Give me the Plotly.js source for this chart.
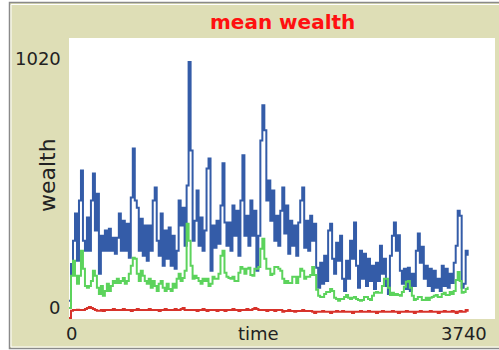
<!DOCTYPE html>
<html>
<head>
<meta charset="utf-8">
<script src="https://cdn.plot.ly/plotly-3.0.1.min.js"></script>
<style>html,body{margin:0;padding:0;background:#fff;}#chart{width:499px;height:350px;}</style>
</head>
<body>
<div id="chart"></div>
<script>
// ---- data ----
const chartTitle = 'mean wealth';
const xTitle = 'time';
const yTitle = 'wealth';
const xRange = [0, 3740];
const yRange = [0, 1020];
const xTickLabels = ['0', '3740'];
const yTickLabels = ['0', '1020'];
const tickStep = 17.5; // ticks between plotted points

const seriesNames = ['richest', 'middle', 'mean'];

const blueWealth = [
  66,200,284,383,211,430,539,284,248,368,
  248,430,528,321,455,164,302,248,321,248,
  328,248,295,237,295,383,248,357,248,346,
  222,441,619,430,404,248,364,230,339,211,
  339,248,430,477,284,230,383,193,321,219,
  332,193,302,182,248,430,339,404,266,485,
  933,612,284,357,466,266,368,248,321,546,
  583,175,339,259,357,273,412,565,350,266,
  350,248,412,302,393,230,430,594,302,375,
  266,430,302,393,175,302,648,776,685,430,
  503,357,466,284,375,266,393,477,310,412,
  237,357,266,339,230,350,430,477,259,357,
  248,375,284,346,186,113,204,128,230,138,
  321,346,219,164,277,211,302,146,102,211,
  146,284,219,350,193,113,248,146,237,120,
  219,138,193,109,204,138,266,164,219,120,
  91,230,302,350,248,304,175,128,182,109,
  186,102,164,120,248,310,204,262,146,193,
  120,182,102,175,113,146,102,193,120,182,
  113,164,131,204,266,393,375,113,128,248,
  230
];

const greenWealth = [
  40,157,211,157,128,157,248,182,120,113,
  120,138,175,157,113,91,120,84,102,128,
  102,120,138,131,146,131,138,149,128,138,
  164,193,222,219,164,138,175,157,138,128,
  146,113,138,120,102,128,138,113,102,128,
  109,102,128,113,146,164,138,149,175,346,
  284,193,146,157,149,138,128,146,138,146,
  120,128,153,146,146,164,230,248,168,153,
  149,146,153,138,138,168,189,182,164,182,
  186,160,157,182,182,189,255,291,219,182,
  182,160,164,189,189,182,175,146,131,138,
  131,131,153,153,131,153,182,175,146,153,
  153,160,189,160,106,84,80,80,91,98,
  98,109,102,77,73,66,73,73,80,87,
  77,73,77,80,73,69,66,69,80,80,
  73,69,84,95,98,95,95,120,146,146,
  113,87,95,87,91,87,84,98,117,135,
  138,113,84,69,73,80,80,69,69,77,
  69,77,80,84,87,80,80,91,95,87,
  87,98,91,102,142,171,138,95,98,109,
  117
];

const redWealth = [
  4,30,33,33,34,33,33,33,36,40,
  44,40,36,33,30,30,33,29,33,33,
  33,33,36,33,33,33,33,36,33,33,
  33,29,33,33,36,33,33,33,33,33,
  36,33,33,33,33,29,33,33,36,33,
  33,33,33,36,33,33,36,40,33,33,
  33,33,33,33,29,33,33,36,33,29,
  33,33,33,33,29,33,33,33,29,33,
  33,33,36,33,33,29,33,33,33,36,
  33,33,36,40,36,33,33,33,33,29,
  33,33,33,29,33,33,33,26,29,29,
  33,29,29,26,29,29,29,33,29,29,
  29,29,26,22,26,26,26,29,26,26,
  26,22,26,26,29,26,26,29,26,26,
  26,26,22,26,26,26,29,26,26,26,
  29,26,26,26,22,26,26,29,26,26,
  26,26,29,26,26,22,26,26,26,29,
  26,26,26,22,26,26,29,26,26,26,
  26,29,26,26,26,22,26,26,29,26,
  26,26,29,26,22,26,29,26,26,33,
  26
];

const seriesColors = ['#345ca8', '#5cd35c', '#d7322a'];

// ---- build ----
const ticksOf = arr => arr.map((_, i) => i * tickStep);
const allSeries = [blueWealth, greenWealth, redWealth];
const traces = allSeries.map((vals, k) => ({
  type: 'scatter', mode: 'lines', name: seriesNames[k],
  x: ticksOf(vals), y: vals,
  line: {color: seriesColors[k], width: 2, shape: 'hv'},
  hoverinfo: 'skip'
}));

const W = 426, H = 281, L = 69, T = 38;
const px = v => (v - L) / W;
const py = v => (T + H - v) / H;
const labelFont = {family: 'DejaVu Sans, sans-serif', size: 18, color: '#222'};

const annotations = [
  {text: '<b>' + chartTitle + '</b>', x: px(282), y: py(22), xanchor: 'center', yanchor: 'middle',
   font: {family: 'DejaVu Sans, sans-serif', size: 20, color: '#ff1010'}},
  {text: yTickLabels[1], x: px(63), y: py(58), xanchor: 'right', yanchor: 'middle', font: labelFont},
  {text: yTickLabels[0], x: px(62), y: py(307), xanchor: 'right', yanchor: 'middle', font: labelFont},
  {text: xTickLabels[0], x: px(71), y: py(333), xanchor: 'center', yanchor: 'middle', font: labelFont},
  {text: xTickLabels[1], x: px(489), y: py(333), xanchor: 'right', yanchor: 'middle', font: labelFont},
  {text: xTitle, x: px(258), y: py(333), xanchor: 'center', yanchor: 'middle', font: labelFont},
  {text: yTitle, x: px(47), y: py(175), xanchor: 'center', yanchor: 'middle', textangle: -90,
   font: {family: 'DejaVu Sans, sans-serif', size: 22, color: '#222'}}
].map(a => Object.assign({xref: 'paper', yref: 'paper', showarrow: false}, a));

const shapes = [
  {type: 'rect', xref: 'paper', yref: 'paper', x0: px(9.5), x1: px(505), y0: py(348.5), y1: py(2.5),
   fillcolor: '#dedeb6', line: {color: '#8a8a8a', width: 1.5}, layer: 'below'},
  {type: 'rect', xref: 'paper', yref: 'paper', x0: px(11), x1: px(505), y0: py(347), y1: py(4.5),
   fillcolor: 'rgba(0,0,0,0)', line: {color: '#ffffff', width: 1}, layer: 'below'},
  {type: 'rect', xref: 'paper', yref: 'paper', x0: 0, x1: 1, y0: 0, y1: 1,
   fillcolor: '#ffffff', line: {width: 0}, layer: 'below'}
];

const layout = {
  width: 499, height: 350,
  margin: {l: L, r: 499 - L - W, t: T, b: 350 - T - H, pad: 0},
  paper_bgcolor: '#ffffff', plot_bgcolor: '#ffffff',
  showlegend: false,
  xaxis: {range: xRange, showgrid: false, zeroline: false, showticklabels: false, ticks: '', showline: false, fixedrange: true},
  yaxis: {range: yRange, showgrid: false, zeroline: false, showticklabels: false, ticks: '', showline: false, fixedrange: true},
  annotations: annotations,
  shapes: shapes,
  hovermode: false
};

Plotly.newPlot('chart', traces, layout, {staticPlot: true, displayModeBar: false});
</script>
</body>
</html>
